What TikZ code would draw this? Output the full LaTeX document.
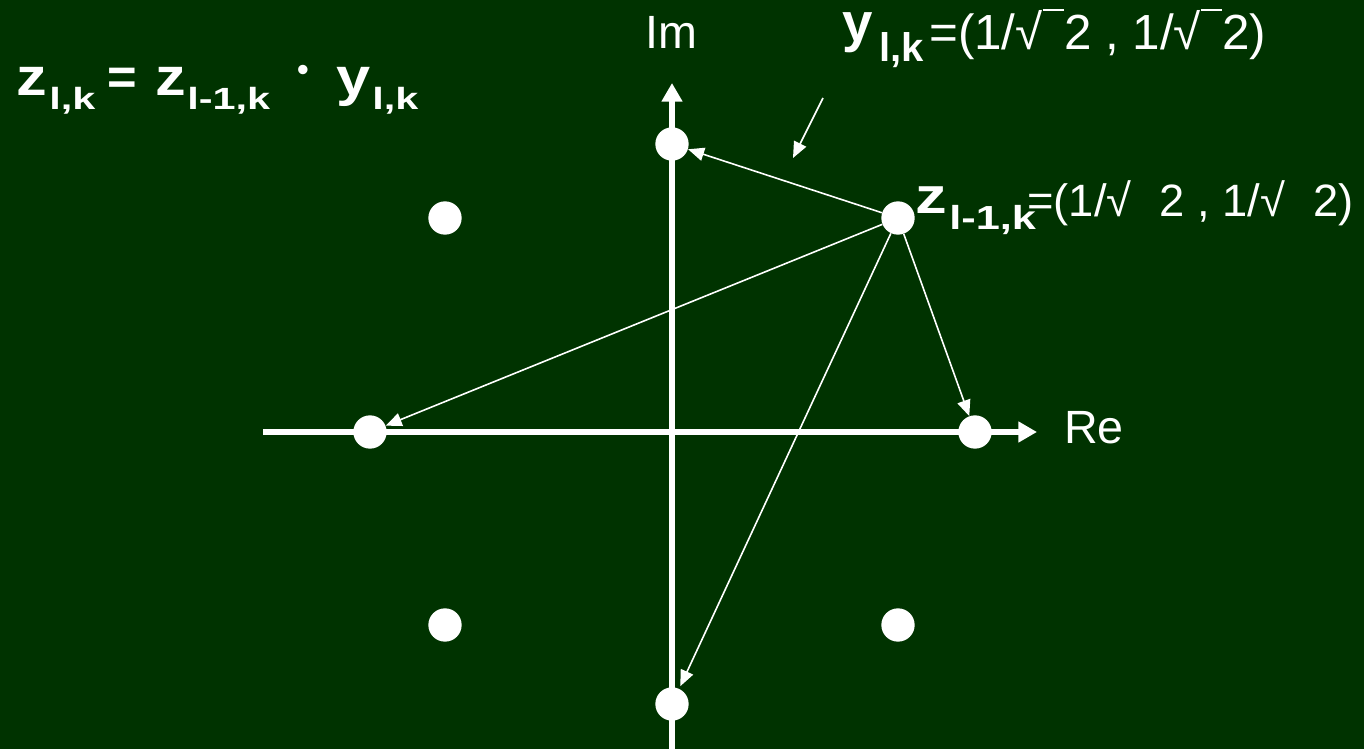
\documentclass[tikz,border=0pt]{standalone}
\usepackage{fontspec}
\setmainfont{Liberation Sans}
\newfontfamily\stretchA[FakeStretch=1.15]{Liberation Sans}
\newfontfamily\stretchB[FakeStretch=1.35]{Liberation Sans}
\newfontfamily\stretchC[FakeStretch=1.25]{Liberation Sans}
\newfontfamily\stretchD[FakeStretch=1.3]{Liberation Sans}
\usetikzlibrary{arrows.meta}
\definecolor{bg}{RGB}{0,51,0}
\newcommand\fsz[1]{\fontsize{#1}{#1}\selectfont}
\newcommand\sqbar{\char"221A\rule[0.8em]{16pt}{1.5pt}}
\begin{document}
\begin{tikzpicture}[x=0.75pt,y=-0.75pt,
  dot/.style={circle,fill=white,minimum size=25pt,inner sep=0pt},
  axis/.style={white,line width=3.8pt,-{Triangle[length=14pt,width=15pt]}},
  link/.style={white,line width=1.2pt,-{Triangle[length=12pt,width=10pt]}},
  lbl/.style={text=white,inner sep=0pt,anchor=base west},
  bigb/.style={font=\stretchA\bfseries\fsz{40pt}},
  subb/.style={font=\stretchB\bfseries\fsz{23pt}},
]
\fill[bg] (0,0) rectangle (1364,749);
\useasboundingbox (0,0) rectangle (1364,749);

% axes
\coordinate (xl) at (263,432);
\coordinate (xr) at (1037,432);
\coordinate (yb) at (672,749);
\coordinate (yt) at (672,83);
\draw[axis] (xl) -- (xr);
\draw[axis] (yb) -- (yt);

% constellation points
\node[dot] (top) at (672,144) {};
\node[dot] (ul)  at (445,218) {};
\node[dot] (z)   at (898,218) {};
\node[dot] (lft) at (370,432) {};
\node[dot] (rgt) at (975,432) {};
\node[dot] (ll)  at (445,625) {};
\node[dot] (lr)  at (898,625) {};
\node[dot] (bot) at (672,704) {};

% arrows from z
\draw[link] (z) -- (top);
\draw[link] (z) -- (lft);
\draw[link] (z) -- (rgt);
\draw[link,shorten >=2pt] (z) -- (bot);

% pointer arrow
\coordinate (p1) at (823,98);
\coordinate (p2) at (793,158);
\draw[link] (p1) -- (p2);

% axis labels
\node[text=white,inner sep=0pt,anchor=base,font=\fsz{35pt}] (im) at (671,49) {Im};
\node[lbl,font=\fsz{35pt}] (re) at (1064,443) {Re};

% top-left formula
\node[lbl,bigb] (f1) at (16,95) {z};
\node[lbl,subb] (f2) at (49,109) {l,k};
\node[lbl,font=\bfseries\fsz{38pt}] (f3) at (107,94) {=};
\node[lbl,bigb] (f4) at (155,95) {z};
\node[lbl,subb] (f5) at (187,109) {l-1,k};
\node[text=white,inner sep=0pt,anchor=base,font=\fsz{26pt}] (f6) at (303,82) {•};
\node[lbl,bigb] (f7) at (336,95) {y};
\node[lbl,subb] (f8) at (372,109) {l,k};

% y label
\node[lbl,font=\bfseries\fsz{41pt}] (y1) at (842,42) {y};
\node[lbl,font=\bfseries\fsz{30pt}] (y2) at (879,62) {l,k};
\node[lbl,font=\fsz{37pt}] (y3) at (929,50) {=(1/\sqbar2 , 1/\sqbar2)};

% z label
\node[lbl,font=\stretchC\bfseries\fsz{38pt}] (z1) at (915,213) {z};
\node[lbl,font=\stretchD\bfseries\fsz{25pt}] (z2) at (949,229) {l-1,k};
\node[lbl,font=\fsz{34pt}] (z3) at (1027,216) {=(1/\char"221A\hspace{21pt}2 , 1/\char"221A\hspace{21pt}2)};
\end{tikzpicture}
\end{document}
